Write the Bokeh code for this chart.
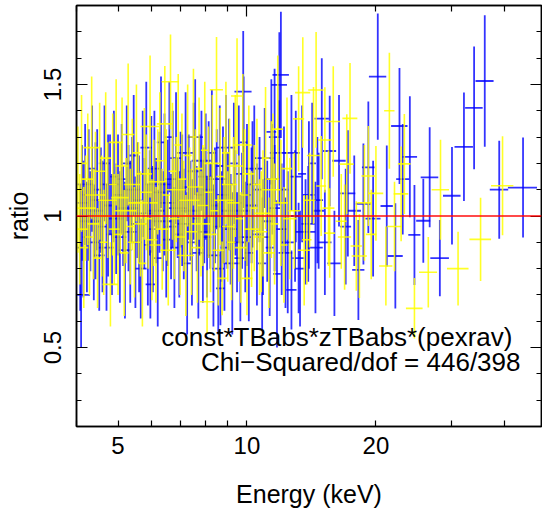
import numpy as np
from bokeh.plotting import figure
from bokeh.models import (ColumnDataSource, FixedTicker, LogAxis, LinearAxis,
                          Range1d, Label, Span)
from bokeh.embed import file_html
from bokeh.resources import INLINE

# ---------------- data ----------------
blue_E = [
    4.10, 4.08, 4.12, 4.15, 4.19, 4.23, 4.27, 4.31, 4.35, 4.39, 4.43, 4.47, 4.52, 4.56, 4.60, 4.65, 4.70, 4.74, 4.79, 4.84, 4.89, 4.95,
    5.00, 5.05, 5.10, 5.14, 5.19, 5.24, 5.29, 5.34, 5.39, 5.44, 5.49, 5.55, 5.60, 5.65, 5.71, 5.76, 5.82, 5.87, 5.93, 5.98,
    6.03, 6.08, 6.14, 6.19, 6.25, 6.30, 6.36, 6.42, 6.48, 6.53, 6.59, 6.65, 6.71, 6.77, 6.83, 6.89, 6.95, 7.00,
    7.06, 7.12, 7.19, 7.25, 7.31, 7.38, 7.44, 7.51, 7.57, 7.63, 7.70, 7.76, 7.83, 7.89, 7.95, 8.01,
    8.07, 8.14, 8.21, 8.28, 8.35, 8.42, 8.50, 8.57, 8.64, 8.72, 8.79, 8.86, 8.93, 9.00,
    9.08, 9.16, 9.24, 9.32, 9.40, 9.48, 9.57, 9.65, 9.74, 9.82, 9.91, 10.0,
    10.1, 10.25, 10.4, 10.55, 10.7, 10.85, 11.0, 11.15, 11.3, 11.45, 11.6, 11.75, 11.9, 12.05,
    12.2, 12.45, 12.7, 12.95, 13.2, 13.45, 13.7, 13.95, 14.2, 14.45, 14.7, 14.95,
    15.6, 16.0, 17.0, 17.2, 18.2, 18.7, 19.2, 19.7, 20.2, 21.2, 22.2, 22.7, 23.1, 24.0, 24.6, 25.8, 26.7, 28.2, 30.1, 32.1, 33.9, 35.9, 38.8, 44.1, 13.3,
    9.80, 12.0, 11.9, 11.4, 8.67, 5.95, 12.7,
    10.3, 10.9, 11.6, 12.3, 13.0, 13.9, 14.6, 15.2, 16.4, 17.8]
blue_dE = [
    0.20, 0.10, 0.14, 0.10, 0.19, 0.10, 0.14, 0.24, 0.10, 0.14, 0.19, 0.10, 0.14, 0.24, 0.10, 0.14, 0.19, 0.10, 0.24, 0.14, 0.10, 0.19,
    0.12, 0.18, 0.12, 0.24, 0.18, 0.12, 0.30, 0.18, 0.24, 0.12, 0.18, 0.12, 0.24, 0.18, 0.12, 0.30, 0.18, 0.12, 0.24, 0.18,
    0.14, 0.21, 0.28, 0.14, 0.21, 0.14, 0.35, 0.21, 0.14, 0.28, 0.14, 0.21, 0.28, 0.14, 0.21, 0.35, 0.14, 0.21,
    0.16, 0.24, 0.32, 0.16, 0.24, 0.40, 0.16, 0.24, 0.32, 0.16, 0.24, 0.16, 0.40, 0.24, 0.16, 0.32,
    0.18, 0.27, 0.37, 0.18, 0.27, 0.18, 0.46, 0.27, 0.18, 0.37, 0.27, 0.18, 0.46, 0.27,
    0.20, 0.31, 0.41, 0.20, 0.31, 0.51, 0.20, 0.31, 0.41, 0.20, 0.31, 0.20,
    0.24, 0.35, 0.47, 0.24, 0.35, 0.24, 0.59, 0.35, 0.24, 0.47, 0.35, 0.24, 0.59, 0.35,
    0.29, 0.44, 0.58, 0.29, 0.44, 0.29, 0.73, 0.44, 0.29, 0.58, 0.44, 0.58,
    0.55, 0.60, 0.50, 0.70, 0.60, 0.75, 0.65, 0.80, 0.94, 0.70, 0.90, 1.00, 0.80, 0.95, 0.80, 0.97, 1.26, 1.41, 1.42, 1.59, 1.60, 1.74, 1.92, 3.44, 0.35,
    0.45, 0.53, 0.50, 0.30, 0.20, 0.15, 0.35,
    0.30, 0.40, 0.35, 0.45, 0.40, 0.50, 0.45, 0.55, 0.60, 0.65]
blue_R = [
    0.70, 0.88, 1.05, 0.95, 1.12, 0.92, 1.08, 0.98, 1.18, 0.90, 1.02, 1.10, 0.85, 1.06, 0.96, 1.20, 0.88, 1.04, 1.12, 0.93, 1.15, 0.99,
    1.08, 0.92, 1.14, 1.00, 0.87, 1.20, 1.03, 0.94, 1.10, 1.23, 0.90, 1.06, 0.97, 0.80, 1.16, 1.01, 1.26, 0.89, 1.05, 1.12,
    0.95, 1.18, 1.02, 0.84, 1.09, 1.28, 0.98, 1.12, 0.91, 1.05, 1.30, 0.96, 1.14, 0.88, 1.22, 1.03, 0.93, 1.10,
    1.06, 0.97, 1.24, 0.82, 1.11, 1.02, 0.90, 1.17, 1.30, 0.99, 0.86, 1.08, 1.21, 0.94, 1.04, 1.15,
    0.92, 1.10, 1.00, 1.24, 0.85, 1.04, 1.14, 0.80, 1.19, 0.96, 1.08, 0.88, 1.26, 1.02,
    1.12, 0.95, 0.82, 1.20, 1.05, 0.90, 1.16, 0.84, 1.02, 1.28, 0.92, 1.08,
    0.86, 1.04, 1.18, 0.93, 1.10, 0.82, 1.22, 0.98, 0.88, 1.14, 1.03, 0.78, 1.24, 0.95,
    1.10, 0.90, 1.24, 1.00, 0.84, 1.16, 0.94, 1.08, 1.20, 0.88, 1.02, 1.37,
    1.247, 0.82, 0.96, 1.086, 0.795, 1.046, 1.185, 0.99, 1.53, 1.038, 0.848, 1.342, 1.14, 1.225, 0.928, 0.982, 1.147, 0.84, 1.077, 1.263, 1.411, 1.513, 1.10, 1.108, 0.80,
    1.473, 1.536, 1.498, 1.32, 0.725, 0.74, 0.719,
    1.12, 0.92, 1.30, 0.86, 1.15, 0.97, 1.06, 0.90, 1.21, 1.02]
blue_dR = [
    0.20, 0.24, 0.22, 0.26, 0.23, 0.21, 0.25, 0.19, 0.24, 0.22, 0.26, 0.23, 0.21, 0.20, 0.25, 0.22, 0.24, 0.27, 0.19, 0.23, 0.25, 0.21,
    0.23, 0.25, 0.21, 0.19, 0.26, 0.22, 0.24, 0.27, 0.20, 0.23, 0.25, 0.22, 0.26, 0.19, 0.24, 0.21, 0.25, 0.23, 0.20, 0.26,
    0.24, 0.22, 0.20, 0.26, 0.23, 0.25, 0.19, 0.27, 0.22, 0.24, 0.21, 0.20, 0.26, 0.23, 0.25, 0.19, 0.24, 0.22,
    0.25, 0.21, 0.23, 0.27, 0.20, 0.19, 0.24, 0.26, 0.22, 0.20, 0.25, 0.23, 0.19, 0.27, 0.22, 0.24,
    0.23, 0.26, 0.20, 0.24, 0.27, 0.22, 0.19, 0.25, 0.23, 0.21, 0.26, 0.24, 0.20, 0.22,
    0.25, 0.21, 0.27, 0.23, 0.20, 0.19, 0.26, 0.24, 0.22, 0.25, 0.21, 0.27,
    0.26, 0.22, 0.24, 0.27, 0.20, 0.25, 0.19, 0.23, 0.26, 0.21, 0.24, 0.28, 0.20, 0.25,
    0.24, 0.27, 0.22, 0.25, 0.21, 0.26, 0.20, 0.28, 0.23, 0.25, 0.22, 0.23,
    0.21, 0.20, 0.22, 0.24, 0.19, 0.23, 0.25, 0.22, 0.24, 0.23, 0.20, 0.22, 0.21, 0.23, 0.19, 0.16, 0.19, 0.145, 0.185, 0.206, 0.233, 0.25, 0.186, 0.19, 0.22,
    0.23, 0.24, 0.20, 0.20, 0.14, 0.13, 0.15,
    0.24, 0.22, 0.26, 0.21, 0.25, 0.22, 0.24, 0.20, 0.25, 0.21]

yellow_E = [
    4.03, 4.07, 4.11, 4.16, 4.20, 4.25, 4.29, 4.34, 4.38, 4.43, 4.48, 4.53, 4.58, 4.63, 4.68, 4.80, 4.73, 4.86, 4.90, 4.95,
    5.00, 5.06, 5.11, 5.17, 5.22, 5.28, 5.34, 5.40, 5.46, 5.52, 5.58, 5.64, 5.70, 5.76, 5.82, 5.88, 5.94, 6.00,
    6.06, 6.13, 6.19, 6.26, 6.34, 6.43, 6.48, 6.55, 6.63, 6.70, 6.77, 6.84, 6.91, 6.98,
    7.05, 7.12, 7.20, 7.27, 7.35, 7.42, 7.50, 7.58, 7.66, 7.73, 7.81, 7.89, 7.97, 8.07,
    8.13, 8.22, 8.30, 8.39, 8.49, 8.57, 8.66, 8.75, 8.84, 8.93, 9.02, 9.11,
    9.20, 9.30, 9.39, 9.48, 9.58, 9.68, 9.78, 9.88, 10.0, 10.1, 10.25, 10.4,
    10.55, 10.7, 10.9, 11.05, 11.25, 11.4, 11.6, 11.8, 12.0, 12.2, 12.4, 12.6,
    13.2, 13.5, 13.8, 14.0, 14.5, 14.9, 15.2, 15.6, 15.9, 16.6, 17.1, 17.4, 18.0, 18.3, 19.2, 19.5, 20.0, 21.1, 21.5, 22.1, 22.9, 23.3, 24.6, 26.5, 28.3, 31.1, 35.1, 39.5,
    10.8, 11.5, 12.9, 13.6, 14.3, 15.5, 16.9, 18.8]
yellow_dE = [
    0.10, 0.19, 0.14, 0.10, 0.24, 0.14, 0.10, 0.19, 0.14, 0.24, 0.10, 0.14, 0.19, 0.10, 0.14, 0.20, 0.24, 0.10, 0.14, 0.19,
    0.12, 0.24, 0.18, 0.12, 0.30, 0.18, 0.12, 0.24, 0.18, 0.12, 0.30, 0.18, 0.12, 0.24, 0.18, 0.12, 0.30, 0.18,
    0.14, 0.21, 0.28, 0.14, 0.21, 0.27, 0.14, 0.28, 0.31, 0.14, 0.21, 0.35, 0.14, 0.21,
    0.16, 0.24, 0.32, 0.16, 0.40, 0.24, 0.16, 0.32, 0.24, 0.16, 0.40, 0.24, 0.16, 0.30,
    0.18, 0.27, 0.37, 0.18, 0.30, 0.27, 0.18, 0.22, 0.46, 0.18, 0.27, 0.37,
    0.20, 0.31, 0.41, 0.30, 0.20, 0.31, 0.51, 0.20, 0.30, 0.31, 0.41, 0.20,
    0.24, 0.35, 0.47, 0.24, 0.35, 0.59, 0.24, 0.35, 0.47, 0.24, 0.35, 0.47,
    0.40, 0.55, 0.35, 0.45, 0.60, 0.40, 0.55, 0.45, 0.60, 0.50, 0.65, 0.70, 0.55, 0.75, 0.70, 0.55, 0.80, 0.75, 0.60, 0.85, 0.90, 0.80, 1.10, 1.28, 1.32, 1.80, 2.04, 2.37,
    0.35, 0.40, 0.40, 0.45, 0.50, 0.50, 0.60, 0.70]
yellow_R = [
    1.10, 0.95, 1.20, 0.88, 1.03, 1.14, 0.92, 1.26, 0.97, 1.08, 0.84, 1.17, 1.00, 0.90, 1.22, 0.74, 1.06, 1.12, 0.95, 1.28,
    0.93, 1.07, 1.19, 0.86, 1.02, 1.31, 0.96, 1.12, 0.90, 1.24, 1.05, 0.97, 0.82, 1.16, 1.09, 0.99, 1.34, 0.91,
    1.05, 0.89, 1.13, 1.21, 0.95, 1.35, 1.08, 0.87, 1.51, 1.17, 0.99, 1.10, 1.27, 0.92,
    1.14, 1.00, 0.85, 1.23, 1.06, 0.94, 1.30, 1.11, 0.88, 1.18, 0.97, 1.04, 1.25, 0.674,
    1.09, 0.93, 1.20, 1.02, 1.48, 0.87, 1.15, 0.763, 1.06, 1.24, 0.96, 1.12,
    0.90, 1.05, 1.19, 1.456, 0.99, 0.88, 1.27, 1.08, 0.763, 1.16, 0.95, 1.03,
    1.12, 0.92, 1.01, 1.22, 0.86, 1.10, 0.97, 1.33, 1.05, 0.89, 1.18, 0.99,
    1.369, 1.469, 0.91, 1.06, 1.479, 1.114, 1.289, 0.935, 1.359, 0.98, 1.197, 1.371, 0.886, 0.848, 1.152, 0.93, 1.086, 0.81, 1.40, 0.96, 1.084, 1.198, 0.649, 0.786, 1.10, 0.80, 0.911, 1.115,
    0.94, 1.14, 1.02, 0.87, 1.23, 1.03, 0.92, 1.05]
yellow_dR = [
    0.24, 0.21, 0.26, 0.23, 0.20, 0.25, 0.22, 0.27, 0.21, 0.24, 0.19, 0.26, 0.23, 0.20, 0.25, 0.16, 0.22, 0.27, 0.21, 0.24,
    0.23, 0.21, 0.26, 0.24, 0.20, 0.27, 0.22, 0.25, 0.21, 0.26, 0.23, 0.20, 0.24, 0.25, 0.22, 0.19, 0.27, 0.23,
    0.24, 0.22, 0.20, 0.26, 0.23, 0.22, 0.25, 0.21, 0.18, 0.26, 0.23, 0.20, 0.27, 0.22,
    0.25, 0.21, 0.23, 0.27, 0.20, 0.24, 0.26, 0.22, 0.21, 0.27, 0.20, 0.23, 0.26, 0.12,
    0.25, 0.22, 0.26, 0.23, 0.20, 0.21, 0.26, 0.14, 0.24, 0.27, 0.21, 0.25,
    0.22, 0.25, 0.27, 0.22, 0.24, 0.21, 0.27, 0.25, 0.14, 0.26, 0.22, 0.24,
    0.25, 0.22, 0.24, 0.27, 0.21, 0.26, 0.23, 0.28, 0.24, 0.22, 0.27, 0.23,
    0.20, 0.21, 0.17, 0.18, 0.22, 0.19, 0.20, 0.17, 0.21, 0.18, 0.19, 0.21, 0.17, 0.16, 0.19, 0.17, 0.18, 0.15, 0.22, 0.17, 0.18, 0.19, 0.115, 0.134, 0.19, 0.14, 0.158, 0.188,
    0.23, 0.25, 0.22, 0.21, 0.26, 0.22, 0.20, 0.22]

model_ratio = 1.0
x_ticks = [5, 10, 20]
x_minor = [4, 6, 7, 8, 9, 30, 40]
top_ticks = [10]
top_minor = [4, 5, 6, 7, 8, 9, 20, 30, 40]
y_ticks = [0.5, 1.0, 1.5]
y_minor = [0.2, 0.3, 0.4, 0.6, 0.7, 0.8, 0.9, 1.1, 1.2, 1.3, 1.4, 1.6, 1.7, 1.8]
annotation_lines = ["const*TBabs*zTBabs*(pexrav)", "Chi\u2212Squared/dof = 446/398"]
annotation_x = [41.65, 43.5]
annotation_y = [0.54, 0.445]


def make_source(E, dE, R, dR):
    E, dE, R, dR = map(np.asarray, (E, dE, R, dR))
    return ColumnDataSource(dict(x=E, x0=E - dE, x1=E + dE,
                                 y=R, y0=R - dR, y1=R + dR))


FONT = "Liberation Sans"

p = figure(width=542, height=518, x_axis_type="log",
           x_range=Range1d(4, 48.7), y_range=Range1d(0.2, 1.8),
           output_backend="svg", toolbar_location=None,
           min_border_left=76, min_border_right=1, min_border_top=5,
           min_border_bottom=92)
p.grid.visible = False
p.background_fill_color = "white"
p.border_fill_color = "white"
p.outline_line_color = "black"
p.outline_line_width = 1.5

for src_data, color, alpha, lw in [
        ((blue_E, blue_dE, blue_R, blue_dR), "#0000ff", 0.8, 1.8),
        ((yellow_E, yellow_dE, yellow_R, yellow_dR), "#ffff00", 0.85, 1.6)]:
    s = make_source(*src_data)
    p.segment(x0="x", y0="y0", x1="x", y1="y1", source=s,
              line_color=color, line_alpha=alpha, line_width=lw)
    p.segment(x0="x0", y0="y", x1="x1", y1="y", source=s,
              line_color=color, line_alpha=alpha, line_width=lw)

p.add_layout(Span(location=model_ratio, dimension="width",
                  line_color="#ff0000", line_width=1.3, line_alpha=0.95))

# bottom axis
xa = p.xaxis[0]
xa.ticker = FixedTicker(ticks=x_ticks, minor_ticks=x_minor)
xa.major_label_overrides = {5: "5", 10: "10", 20: "20"}
xa.major_tick_in = 6
xa.major_tick_out = 0
xa.minor_tick_in = 6
xa.minor_tick_out = 0
xa.axis_line_color = "black"
xa.axis_line_width = 1.5
xa.major_tick_line_width = 1.2
xa.minor_tick_line_width = 1.2
xa.major_label_text_font = FONT
xa.major_label_text_font_size = "24px"
xa.major_label_text_color = "black"
xa.major_label_standoff = 10
xa.axis_label = "Energy (keV)"
xa.axis_label_text_font = FONT
xa.axis_label_text_font_size = "25px"
xa.axis_label_text_font_style = "normal"
xa.axis_label_text_color = "black"
xa.axis_label_standoff = 23

# left axis
ya = p.yaxis[0]
ya.ticker = FixedTicker(ticks=y_ticks, minor_ticks=y_minor)
ya.major_label_overrides = {0.5: "0.5", 1.0: "1", 1.5: "1.5"}
ya.major_label_orientation = "vertical"
ya.major_tick_in = 11
ya.major_tick_out = 0
ya.minor_tick_in = 5
ya.minor_tick_out = 0
ya.axis_line_color = "black"
ya.axis_line_width = 1.5
ya.major_tick_line_width = 1.2
ya.minor_tick_line_width = 1.2
ya.major_label_text_font = FONT
ya.major_label_text_font_size = "24px"
ya.major_label_text_color = "black"
ya.major_label_standoff = 16
ya.axis_label = "ratio"
ya.axis_label_text_font = FONT
ya.axis_label_text_font_size = "25px"
ya.axis_label_text_font_style = "normal"
ya.axis_label_text_color = "black"
ya.axis_label_standoff = 8

# top axis (ticks only)
top = LogAxis(ticker=FixedTicker(ticks=top_ticks, minor_ticks=top_minor),
              major_tick_in=11, major_tick_out=0, minor_tick_in=6, minor_tick_out=0,
              major_label_text_font_size="2px", major_label_text_alpha=0,
              major_label_standoff=0,
              axis_line_width=1.5, major_tick_line_width=1.2, minor_tick_line_width=1.2)
p.add_layout(top, "above")

# right axis (ticks only)
right = LinearAxis(ticker=FixedTicker(ticks=y_ticks, minor_ticks=y_minor),
                   major_tick_in=11, major_tick_out=0, minor_tick_in=5, minor_tick_out=0,
                   major_label_text_font_size="2px", major_label_text_alpha=0,
                   major_label_standoff=0,
                   axis_line_width=1.5, major_tick_line_width=1.2, minor_tick_line_width=1.2)
p.add_layout(right, "right")

for txt, xv, yv in zip(annotation_lines, annotation_x, annotation_y):
    p.add_layout(Label(x=xv, y=yv, text=txt, text_align="right",
                       text_baseline="alphabetic", text_font=FONT,
                       text_font_size="26px", text_color="black"))

open("out.html", "w").write(file_html(p, INLINE))
